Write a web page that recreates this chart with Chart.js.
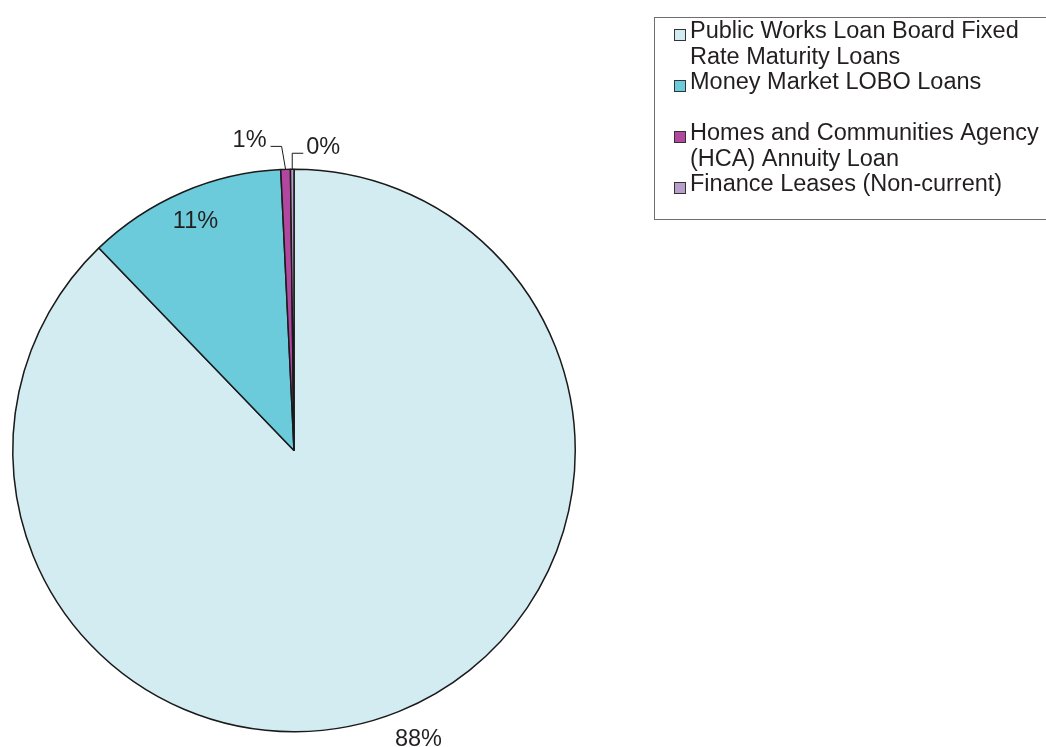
<!DOCTYPE html>
<html>
<head>
<meta charset="utf-8">
<title>Borrowing by type</title>
<script src="https://cdn.jsdelivr.net/npm/chart.js@4/dist/chart.umd.min.js"></script>
<style>
  html, body { margin: 0; padding: 0; background: #fff; }
  #wrap { position: relative; width: 1046px; height: 747px; overflow: hidden; }
</style>
</head>
<body>
<div id="wrap"><canvas id="chart" width="1046" height="747"></canvas></div>
<script>
// legend entries, each wrapped the way the source legend wraps them
const categories = [
  ["Public Works Loan Board Fixed", "Rate Maturity Loans"],
  ["Money Market LOBO Loans"],
  ["Homes and Communities Agency", "(HCA) Annuity Loan"],
  ["Finance Leases (Non-current)"]
];
// share of total borrowing, percent
const shares = [87.8, 11.45, 0.55, 0.2];
const sliceColors = ["#D2ECF2", "#6CCBDB", "#B2479F", "#B89FCB"];

const FONT = '23.5px "Liberation Sans", Arial, sans-serif';
const TEXT = "#231F20";

// how each percentage label is placed
const labelModes = ["outside", "inside", "callout", "callout"];
const labelNudge = [[8, 0], [0, 0]];
// callouts: elbow and label centre relative to the slice's outer midpoint
const callouts = {
  2: { elbow: [-4, -23], label: [-36, -29], side: "left" },
  3: { elbow: [0, -16], label: [31, -22], side: "right" }
};

const sliceLabels = {
  id: "sliceLabels",
  afterDatasetsDraw(chart) {
    const ctx = chart.ctx;
    const arcs = chart.getDatasetMeta(0).data;
    const total = shares.reduce((a, b) => a + b, 0);
    ctx.save();
    ctx.font = FONT;
    ctx.fillStyle = TEXT;
    ctx.textAlign = "center";
    ctx.textBaseline = "middle";
    arcs.forEach((arc, i) => {
      const p = arc.getProps(["x", "y", "startAngle", "endAngle", "outerRadius"], true);
      const mid = (p.startAngle + p.endAngle) / 2;
      const text = Math.round(shares[i] / total * 100) + "%";
      const mode = labelModes[i];
      if (mode === "outside" || mode === "inside") {
        const r = mode === "outside" ? p.outerRadius + 30 : p.outerRadius * 0.885;
        const n = labelNudge[i];
        ctx.fillText(text, p.x + r * Math.cos(mid) + n[0], p.y + r * Math.sin(mid) + n[1]);
        return;
      }
      const c = callouts[i];
      const ax = p.x + p.outerRadius * Math.cos(mid);
      const ay = p.y + p.outerRadius * Math.sin(mid);
      const ex = ax + c.elbow[0], ey = ay + c.elbow[1];
      const lx = ax + c.label[0], ly = ay + c.label[1];
      const w = ctx.measureText(text).width;
      const endX = c.side === "left" ? lx + w / 2 + 4 : lx - w / 2 - 3;
      ctx.beginPath();
      ctx.moveTo(ax, ay);
      ctx.lineTo(ex, ey);
      ctx.lineTo(endX, ey);
      ctx.strokeStyle = "#1a1a1a";
      ctx.lineWidth = 1;
      ctx.stroke();
      ctx.fillText(text, lx, ly);
    });
    ctx.restore();
  }
};

const boxLegend = {
  id: "boxLegend",
  afterDraw(chart) {
    const ctx = chart.ctx;
    const left = 654.5, top = 17.5, height = 202;
    const pitch = 25.5, firstBaseline = 38;
    ctx.save();
    ctx.strokeStyle = "#6f6f6f";
    ctx.lineWidth = 1;
    ctx.strokeRect(left, top, 500, height);
    ctx.font = FONT;
    ctx.textAlign = "left";
    ctx.textBaseline = "alphabetic";
    categories.forEach((lines, i) => {
      const base = firstBaseline + 2 * i * pitch;
      ctx.fillStyle = sliceColors[i];
      ctx.fillRect(674.5, base - 8.5, 11, 11);
      ctx.strokeStyle = "#333";
      ctx.strokeRect(674.5, base - 8.5, 11, 11);
      ctx.fillStyle = TEXT;
      lines.forEach((line, j) => ctx.fillText(line, 690, base + j * pitch));
    });
    ctx.restore();
  }
};

new Chart(document.getElementById("chart"), {
  type: "pie",
  data: {
    labels: categories.map((c) => c.join(" ")),
    datasets: [{
      data: shares,
      backgroundColor: sliceColors,
      borderColor: "#1a1a1a",
      borderWidth: 1.5
    }]
  },
  options: {
    responsive: false,
    animation: false,
    devicePixelRatio: 1,
    layout: { padding: { left: 12, right: 470, top: 168, bottom: 14 } },
    plugins: {
      legend: { display: false },
      tooltip: { enabled: false }
    }
  },
  plugins: [sliceLabels, boxLegend]
});
</script>
</body>
</html>
